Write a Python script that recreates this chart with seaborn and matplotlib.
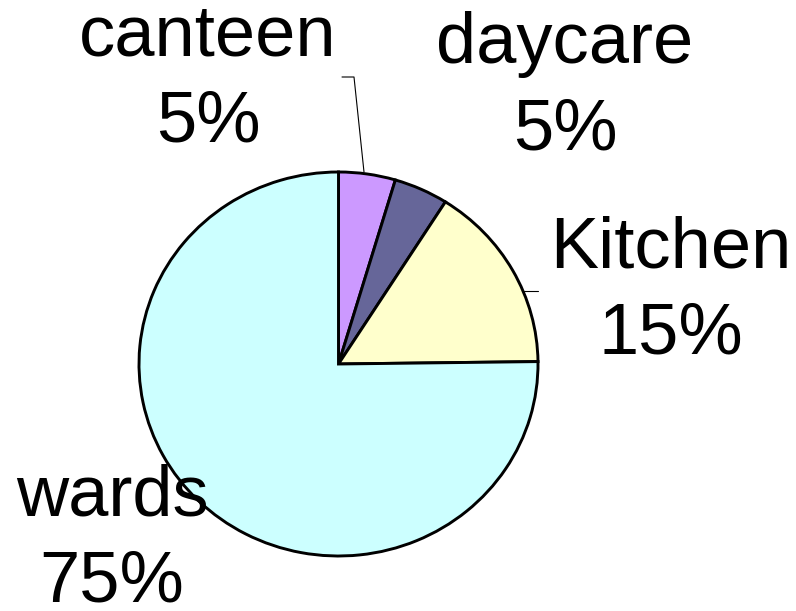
import matplotlib
matplotlib.use("Agg")
import matplotlib.pyplot as plt
import numpy as np
import seaborn as sns

# data
categories = ["canteen", "daycare", "Kitchen", "wards"]
shares = [4.6, 4.4, 15.8, 75.2]
pct_labels = ["5%", "5%", "15%", "75%"]
colors = ["#CC99FF", "#666699", "#FFFFCC", "#CCFFFF"]

sns.set_theme(style="white")
plt.rcParams["font.family"] = ["Liberation Sans", "DejaVu Sans"]

W, H = 796, 611
fig = plt.figure(figsize=(W / 100, H / 100), dpi=100)

# pie is drawn slightly flattened, like the original
left, right, top, bottom = 139, 538, 172, 556
pax = fig.add_axes([left / W, (H - bottom) / H, (right - left) / W, (bottom - top) / H])
pax.pie(shares, colors=colors, startangle=90, counterclock=False,
        radius=1, frame=True,
        wedgeprops={"edgecolor": "black", "linewidth": 2.1, "clip_on": False})
pax.set_xlim(-1, 1)
pax.set_ylim(-1, 1)
pax.set_aspect("auto")
pax.axis("off")

# overlay in pixel coords for labels
ax = fig.add_axes([0, 0, 1, 1])
ax.set_xlim(0, W)
ax.set_ylim(0, H)
ax.axis("off")
ax.patch.set_alpha(0)

label_pos = [(208, 80), (565, 88), (671, 292), (112, 540)]
for cat, pct, (x, y) in zip(categories, pct_labels, label_pos):
    ax.text(x, H - y, f"{cat}\n{pct}", ha="center", va="center",
            fontsize=52, linespacing=1.38, color="black")

# leader lines
ax.plot([342, 354, 364], [H - 77, H - 77, H - 172], color="black", lw=0.8)
ax.plot([524, 538], [H - 291, H - 291], color="black", lw=0.8)

fig.savefig("out.png", dpi=100)
